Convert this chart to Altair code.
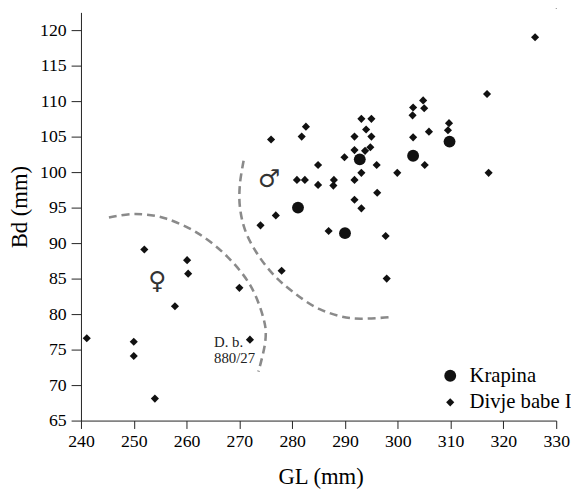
import altair as alt
import pandas as pd

# ---- data ----
krapina_gl = [281.1, 290.0, 292.8, 302.9, 309.8]
krapina_bd = [95.0, 91.4, 101.8, 102.3, 104.3]

divje_gl = [241.1, 250.0, 250.0, 252.0, 254.0, 257.8, 260.1, 260.3, 270.0, 272.0,
            274.0, 276.9, 278.0, 276.0, 281.8, 282.6, 280.9, 282.4, 284.9, 284.9,
            287.9, 287.8, 286.9, 289.9, 291.8, 293.1, 295.0, 294.0, 295.0, 294.8,
            293.8, 291.8, 296.0, 293.1, 291.8, 296.1, 291.8, 293.1, 297.7, 297.9,
            299.9, 302.9, 304.8, 305.0, 302.8, 302.9, 305.9, 305.1, 309.7, 309.5,
            316.9, 317.2, 326.0, 330.0]
divje_bd = [76.6, 76.1, 74.1, 89.1, 68.1, 81.1, 87.6, 85.7, 83.7, 76.4,
            92.5, 93.9, 86.1, 104.6, 105.0, 106.4, 98.9, 98.9, 101.0, 98.2,
            98.9, 98.1, 91.7, 102.1, 105.0, 107.5, 107.5, 106.0, 105.0, 103.5,
            103.0, 103.1, 101.0, 99.9, 98.9, 97.1, 96.1, 94.9, 91.0, 85.0,
            99.9, 109.1, 110.1, 109.0, 108.0, 104.9, 105.7, 101.0, 106.9, 105.9,
            111.0, 99.9, 119.0, 123.6]

# dashed group outlines
female_curve_gl = [245.3, 250.3, 255.9, 262.1, 267.7, 272.1, 274.6, 274.9, 273.6]
female_curve_bd = [93.6, 94.1, 93.5, 91.4, 88.1, 84.0, 79.3, 76.1, 71.9]
male_curve_gl = [270.8, 270.1, 270.1, 271.1, 273.3, 276.4, 280.2, 285.2, 291.4, 298.9]
male_curve_bd = [101.6, 98.3, 95.1, 91.8, 88.6, 85.6, 83.1, 80.7, 79.4, 79.6]

# annotations
label_text = ["D. b.", "880/27"]
label_gl = [265.2, 265.2]
label_bd = [75.4, 73.1]

sex_symbols = ["\u2640", "\u2642"]
sex_gl = [254.45, 275.6]
sex_bd = [84.7, 99.0]

x_ticks = list(range(240, 331, 10))
y_ticks = list(range(65, 121, 5))
groups = ["Krapina", "Divje babe I"]

# ---- tables ----
pts = pd.DataFrame({
    "GL": krapina_gl + divje_gl,
    "Bd": krapina_bd + divje_bd,
    "group": ["Krapina"] * len(krapina_gl) + ["Divje babe I"] * len(divje_gl),
})
curves = pd.DataFrame({
    "GL": female_curve_gl + male_curve_gl,
    "Bd": female_curve_bd + male_curve_bd,
    "curve": ["f"] * len(female_curve_gl) + ["m"] * len(male_curve_gl),
    "order": list(range(len(female_curve_gl))) + list(range(len(male_curve_gl))),
})
labels = pd.DataFrame({"GL": label_gl, "Bd": label_bd, "text": label_text})
sexes = pd.DataFrame({"GL": sex_gl, "Bd": sex_bd, "text": sex_symbols})

FONT = "Liberation Serif"

x_scale = alt.Scale(domain=[240, 330], nice=False, zero=False)
y_scale = alt.Scale(domain=[65, 122.5], nice=False, zero=False)

common_axis = dict(
    grid=False, labelFont=FONT, labelFontSize=18, labelColor="black",
    labelOverlap=False, labelFlush=False, labelBound=False,
    tickColor="#222222", domainColor="#222222", tickWidth=1, domainWidth=1,
    titleFont=FONT, titleFontSize=23, titleFontWeight="normal", titleColor="black",
)

x_axis = alt.Axis(values=x_ticks, title="GL (mm)", tickSize=8, labelPadding=4,
                  titleX=243, titleY=64, titleBaseline="alphabetic", titleAnchor="middle",
                  **common_axis)
y_axis = alt.Axis(values=y_ticks, title="Bd (mm)", tickSize=10, labelPadding=5,
                  titleX=-55, titleY=197, titleAngle=-90, titleBaseline="alphabetic",
                  titleAlign="center", **common_axis)

X = alt.X("GL:Q", scale=x_scale, axis=x_axis)
Y = alt.Y("Bd:Q", scale=y_scale, axis=y_axis)

legend = alt.Legend(title=None, orient="none", legendX=364, legendY=358,
                    labelFont=FONT, labelFontSize=21, labelColor="black",
                    labelOffset=9, rowPadding=5, padding=0,
                    symbolFillColor="#111111", symbolStrokeWidth=0)

curve_layer = alt.Chart(curves).mark_line(
    color="#8a8a8a", strokeWidth=2.6, strokeDash=[8, 5], interpolate="cardinal"
).encode(x=X, y=Y, detail="curve:N", order="order:Q")

point_layer = alt.Chart(pts).mark_point(filled=True, opacity=1, color="#111111").encode(
    x=X, y=Y,
    shape=alt.Shape("group:N", scale=alt.Scale(domain=groups, range=["circle", "diamond"]),
                    legend=legend),
    size=alt.Size("group:N", scale=alt.Scale(domain=groups, range=[145, 68]),
                  legend=legend),
)

label_layer = alt.Chart(labels).mark_text(
    font=FONT, fontSize=15, align="left", baseline="alphabetic", color="#222222"
).encode(x=X, y=Y, text="text:N")

sex_layer = alt.Chart(sexes).mark_text(
    font="DejaVu Sans", fontSize=25, align="center", baseline="middle", color="#333333"
).encode(x=X, y=Y, text="text:N")

chart = alt.layer(curve_layer, point_layer, label_layer, sex_layer).properties(
    width=482, height=414,
    autosize=alt.AutoSizeParams(type="none"),
    padding={"left": 74, "top": 1, "right": 15, "bottom": 70},
).configure_view(stroke=None).configure_axis(
    labelFont=FONT, labelFontSize=18, labelOverlap=False,
)

chart.save("out.html", embed_options={"renderer": "svg", "actions": False})
